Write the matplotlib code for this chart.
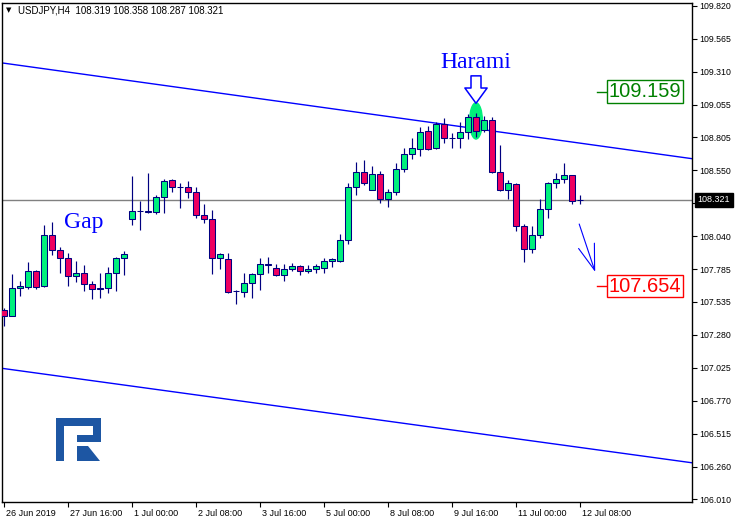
import matplotlib
matplotlib.use("Agg")
import matplotlib.pyplot as plt
from matplotlib.patches import Ellipse, Rectangle, Polygon
from matplotlib.transforms import ScaledTranslation, blended_transform_factory, IdentityTransform

# USDJPY H4, 26 Jun 2019 08:00 .. 12 Jul 2019 08:00
opens = [107.471, 107.425, 107.641, 107.648, 107.772, 107.656, 108.050, 107.934, 107.872, 107.733,
         107.757, 107.672, 107.633, 107.641, 107.757, 107.872, 108.174, 108.235, 108.227, 108.227,
         108.344, 108.475, 108.421, 108.421, 108.383, 108.205, 108.174, 107.872, 107.865, 107.618,
         107.610, 107.679, 107.749, 107.818, 107.795, 107.741, 107.788, 107.811, 107.772, 107.788,
         107.795, 107.849, 107.849, 108.012, 108.421, 108.537, 108.398, 108.522, 108.328, 108.383,
         108.561, 108.676, 108.715, 108.854, 108.723, 108.908, 108.800, 108.800, 108.846, 108.962,
         108.862, 108.939, 108.537, 108.398, 108.444, 108.120, 107.942, 108.050, 108.251, 108.452,
         108.483, 108.514, 108.319]
highs = [107.486, 107.749, 107.695, 107.842, 107.780, 108.127, 108.150, 107.957, 107.911, 107.849,
         107.818, 107.695, 107.757, 107.803, 107.880, 107.926, 108.506, 108.313, 108.530, 108.360,
         108.483, 108.483, 108.452, 108.467, 108.421, 108.290, 108.243, 107.911, 107.911, 107.625,
         107.757, 107.757, 107.872, 107.880, 107.826, 107.826, 107.834, 107.818, 107.818, 107.826,
         107.872, 107.872, 108.058, 108.452, 108.614, 108.630, 108.584, 108.545, 108.406, 108.607,
         108.723, 108.800, 108.885, 108.893, 108.924, 108.954, 108.839, 108.924, 108.985, 108.993,
         108.970, 108.962, 108.746, 108.475, 108.452, 108.135, 108.120, 108.328, 108.460, 108.530,
         108.607, 108.514, 108.358]
lows = [107.347, 107.425, 107.579, 107.633, 107.633, 107.648, 107.896, 107.757, 107.656, 107.687,
        107.618, 107.556, 107.564, 107.602, 107.618, 107.741, 108.127, 108.089, 108.220, 108.212,
        108.220, 108.383, 108.259, 108.336, 108.182, 108.143, 107.749, 107.788, 107.602, 107.517,
        107.571, 107.564, 107.625, 107.757, 107.733, 107.695, 107.772, 107.741, 107.757, 107.757,
        107.757, 107.803, 107.842, 107.981, 108.360, 108.436, 108.398, 108.298, 108.267, 108.360,
        108.537, 108.638, 108.661, 108.707, 108.715, 108.761, 108.723, 108.723, 108.792, 108.808,
        108.846, 108.530, 108.390, 108.328, 108.081, 107.842, 107.911, 108.027, 108.182, 108.413,
        108.452, 108.290, 108.287]
closes = [107.425, 107.641, 107.656, 107.772, 107.648, 108.050, 107.934, 107.872, 107.733, 107.757,
          107.672, 107.633, 107.641, 107.757, 107.872, 107.903, 108.235, 108.236, 108.235, 108.344,
          108.467, 108.421, 108.420, 108.383, 108.205, 108.174, 107.872, 107.903, 107.610, 107.618,
          107.679, 107.749, 107.826, 107.826, 107.741, 107.788, 107.811, 107.772, 107.788, 107.811,
          107.849, 107.865, 108.012, 108.421, 108.537, 108.452, 108.522, 108.328, 108.383, 108.561,
          108.676, 108.723, 108.846, 108.715, 108.908, 108.800, 108.801, 108.846, 108.962, 108.854,
          108.939, 108.537, 108.398, 108.452, 108.120, 107.942, 108.050, 108.251, 108.452, 108.483,
          108.514, 108.313, 108.321]

date_labels = ["26 Jun 2019", "27 Jun 16:00", "1 Jul 00:00", "2 Jul 08:00", "3 Jul 16:00",
               "5 Jul 00:00", "8 Jul 08:00", "9 Jul 16:00", "11 Jul 00:00", "12 Jul 08:00"]
price_ticks = [109.820, 109.565, 109.310, 109.055, 108.805, 108.550, 108.295, 108.040, 107.785,
               107.535, 107.280, 107.025, 106.770, 106.515, 106.260, 106.010]

last_price = 108.321
target_up = 109.159
target_down = 107.654
upper_channel = (109.38, 108.64)   # price at left / right edge
lower_channel = (107.02, 106.29)
harami_bar = 59
forecast_from = 108.135
forecast_to = 107.765

bull_col = "#00F07C"
bear_col = "#EE0060"
edge_col = "#000080"

fig = plt.figure(figsize=(7.38, 5.25), dpi=100)
W, H = 738, 525
ax = fig.add_axes([2 / W, 23 / H, 690 / W, 499 / H])
x_left, x_right = -0.25, 86
ax.set_xlim(x_left, x_right)
ax.set_ylim(105.987, 109.843)

n = len(opens)
idx = list(range(n))

# channel and current price line
ax.plot([x_left, x_right], upper_channel, color="#0000FF", lw=1, zorder=2)
ax.plot([x_left, x_right], lower_channel, color="#0000FF", lw=1, zorder=2)
ax.axhline(last_price, color="#808080", lw=1, zorder=1)

# harami highlight
ax.add_patch(Ellipse((harami_bar, 108.932), 1.6, 0.28, color="#00F07A", zorder=2.5))

# candles
ax.vlines(idx, lows, highs, color=edge_col, lw=0.85, zorder=3)
cols = [bull_col if c >= o else bear_col for o, c in zip(opens, closes)]
ax.bar(idx, [c - o for o, c in zip(opens, closes)], bottom=opens, width=0.7,
       color=cols, edgecolor=edge_col, linewidth=0.75, zorder=4)

# annotations
ax.text(harami_bar, 109.3, "Harami", family="Liberation Serif", fontsize=17,
        color="#0000FF", ha="center", va="bottom", zorder=6)
ax.annotate("", xy=(harami_bar, highs[harami_bar] + 0.075), xytext=(harami_bar, 109.28),
            arrowprops=dict(arrowstyle="simple,head_length=0.55,head_width=0.8,tail_width=0.36",
                            fc="white", ec="#0000FF", lw=1.1, mutation_scale=20,
                            shrinkA=0, shrinkB=0), zorder=6)
ax.text(10, 108.15, "Gap", family="Liberation Serif", fontsize=17, color="#0000FF",
        ha="center", va="center", zorder=6)

ax.annotate("", xy=(n + 0.9, forecast_to), xytext=(n - 1.1, forecast_from),
            arrowprops=dict(arrowstyle="->,head_length=1.85,head_width=0.6", color="#0000FF",
                            lw=0.8, shrinkA=0, shrinkB=0), zorder=6)

for level, col in [(target_up, "#008000"), (target_down, "#FF0000")]:
    ax.plot([74.1, 75.3], [level, level], color=col, lw=1, zorder=6)
    ax.text(75.55, level, f"{level:.3f}", family="Liberation Sans", fontsize=14.5, color=col,
            ha="left", va="center", zorder=7,
            bbox=dict(boxstyle="square,pad=0.08", fc="white", ec=col, lw=1))

# axes styling
for s in ax.spines.values():
    s.set_color("black")
    s.set_linewidth(1)
ax.yaxis.tick_right()
ax.set_yticks(price_ticks)
# the 108.295 label sits under the current-price box
ax.set_yticklabels(["" if abs(p - 108.295) < 1e-6 else f"{p:.3f}" for p in price_ticks])
ax.set_xticks(list(range(0, n, 8)))
ax.set_xticklabels(date_labels, ha="left")
ax.tick_params(axis="both", direction="out", length=3.5, width=0.8, color="black",
               labelsize=6.5, pad=1.5)
for lab in ax.get_xticklabels():
    lab.set_transform(lab.get_transform() + ScaledTranslation(1.5 / 72, 0, fig.dpi_scale_trans))
    lab.set_family("Liberation Sans")
for lab in ax.get_yticklabels():
    lab.set_family("Liberation Sans")
    lab.set_fontsize(6.3)

tr = blended_transform_factory(ax.transAxes, ax.transData)
ax.text(1.0, last_price, "108.321", transform=tr + ScaledTranslation(4 / 72, 0, fig.dpi_scale_trans),
        ha="left", va="center", color="white", fontsize=6.5, family="Liberation Sans",
        clip_on=False, zorder=10,
        bbox=dict(boxstyle="square,pad=0.3", fc="black", ec="black"))

# header
fig.text(6 / W, 1 - 10.5 / H, "\u25bc", fontsize=5, va="center", ha="left")
fig.text(18 / W, 1 - 10.5 / H, "USDJPY,H4  108.319 108.358 108.287 108.321",
         family="Liberation Sans", fontsize=7, va="center", ha="left")

# logo
logo_col = "#1D56A3"
def px_rect(x0, y0, x1, y1):
    return Rectangle((x0, H - y1), x1 - x0, y1 - y0, transform=IdentityTransform(),
                     fc=logo_col, ec="none")
for r in [px_rect(56, 418, 63.5, 461), px_rect(56, 418, 101, 426), px_rect(93, 418, 101, 442),
          px_rect(77, 435, 101, 442)]:
    fig.patches.append(r)
fig.patches.append(Polygon([(77, H - 446), (88, H - 446), (100, H - 461), (77, H - 461)],
                           closed=True, transform=IdentityTransform(), fc=logo_col, ec="none"))

fig.savefig("out.png", dpi=100)
